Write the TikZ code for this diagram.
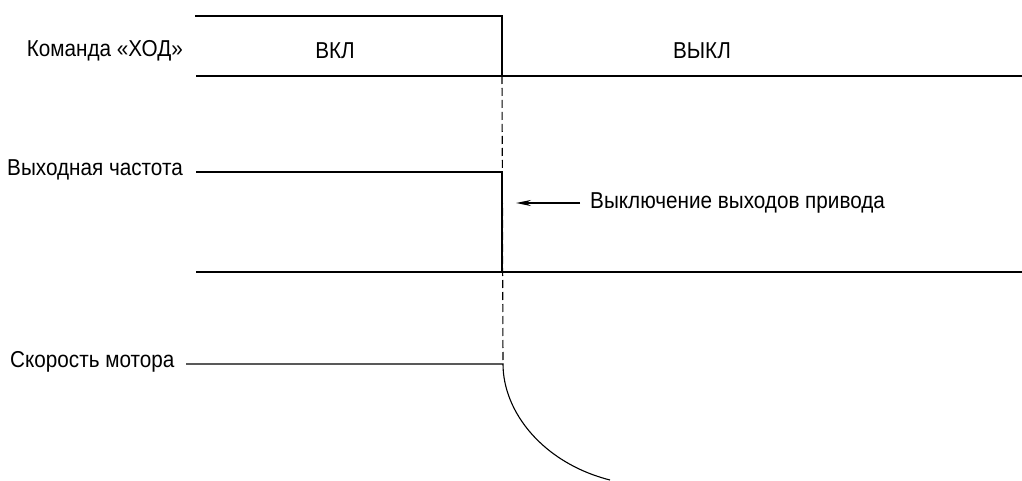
\documentclass[tikz,border=0pt]{standalone}
\usepackage{fontspec}
\setmainfont{Liberation Sans}[FakeStretch=0.9]
\usetikzlibrary{arrows.meta}

\begin{document}
\begin{tikzpicture}[x=1pt, y=-1pt,
    sig/.style={line width=2.8pt, line join=miter},
    base/.style={line width=1.1pt},
    lbl/.style={font=\fontsize{23}{27}\selectfont, inner sep=0pt}]
  \useasboundingbox (0,0) rectangle (1022,481);
  % command signal
  \coordinate (c0) at (195,16);
  \coordinate (c1) at (502,16);
  \coordinate (c2) at (502,76);
  \coordinate (c3) at (1022,76);
  \draw[sig] (c0) -- (c1) -- (c2) -- (c3);
  \draw[base] (196,76) -- (c2);
  \node[lbl, anchor=east] (cmd) at (183,51) {Команда «ХОД»};
  \node[lbl] (on) at (335,51) {ВКЛ};
  \node[lbl] (off) at (702,51) {ВЫКЛ};
  % output frequency
  \coordinate (f0) at (196,172);
  \coordinate (f1) at (502,172);
  \coordinate (f2) at (502,272);
  \coordinate (f3) at (1022,272);
  \draw[sig] (f0) -- (f1) -- (f2) -- (f3);
  \draw[base] (196,272) -- (f2);
  \node[lbl, anchor=east] (freq) at (183,170) {Выходная частота};
  \node[lbl, anchor=west] (trip) at (590,203) {Выключение выходов привода};
  \coordinate (tip) at (516,203);
  \draw[base, -{Stealth[length=15pt, width=6pt]}] (trip.west) ++(-10,0) -- (tip);
  % motor speed
  \coordinate (m0) at (186,364);
  \coordinate (m1) at (503,364);
  \coordinate (m2) at (610,480);
  \node[lbl, anchor=west] (speed) at (10,362) {Скорость мотора};
  \draw[base] (m0) -- (m1) .. controls (503,412) and (543,463) .. (m2);
  \draw[base, dashed, dash pattern=on 8pt off 4pt] (c2) -- (m1);
\end{tikzpicture}
\end{document}
